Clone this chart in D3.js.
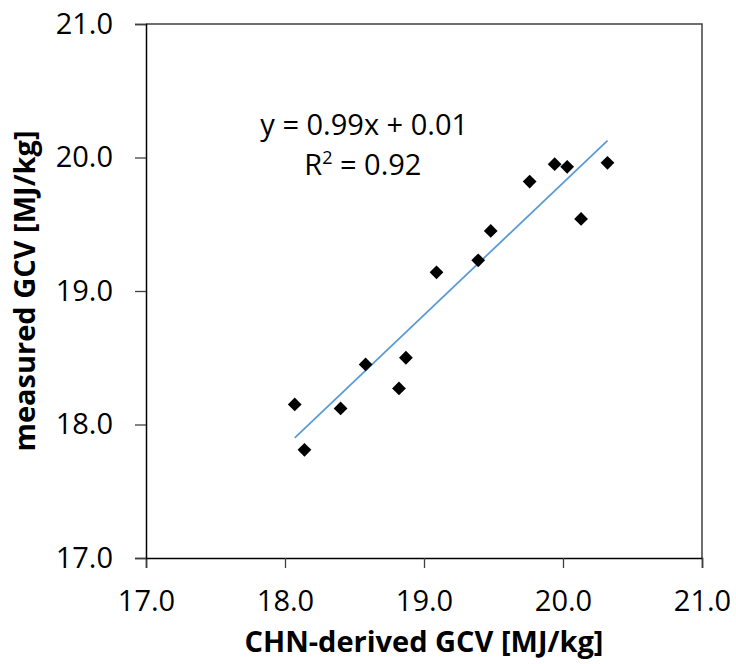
<!DOCTYPE html>
<html>
<head>
<meta charset="utf-8">
<script src="https://cdn.jsdelivr.net/npm/d3@7"></script>
<style>
  body { margin: 0; background: #fff; }
  text { font-family: "Open Sans", sans-serif; fill: #000; }
</style>
</head>
<body>
<svg id="chart" width="736" height="664"></svg>
<script>
// CHN-derived GCV (x) vs measured GCV (y), MJ/kg
var derivedGCV  = [18.07, 18.14, 18.40, 18.58, 18.82, 18.87, 19.09, 19.39, 19.48, 19.76, 19.94, 20.03, 20.13, 20.32]
var measuredGCV = [18.15, 17.81, 18.12, 18.45, 18.27, 18.50, 19.14, 19.23, 19.45, 19.82, 19.95, 19.93, 19.54, 19.96]
var axisTicks = [17, 18, 19, 20, 21]
var trendSlope = 0.99,
    trendIntercept = 0.01
var equationText = "y = 0.99x + 0.01"
var xTitle = "CHN-derived GCV [MJ/kg]",
    yTitle = "measured GCV [MJ/kg]"

var data = derivedGCV.map(function(d, i) { return {x: d, y: measuredGCV[i]} })

var margin = {top: 24, right: 34, bottom: 106, left: 146},
    width = 736 - margin.left - margin.right,
    height = 664 - margin.top - margin.bottom

var svg = d3.select("#chart")
var g = svg.append("g")
    .attr("transform", "translate(" + margin.left + "," + margin.top + ")")

var x = d3.scaleLinear().domain([17, 21]).range([0, width])
var y = d3.scaleLinear().domain([17, 21]).range([height, 0])

// plot frame (top & right)
g.append("path")
    .attr("d", "M0,0H" + width + "V" + height)
    .attr("fill", "none")
    .attr("stroke", "#404040")
    .attr("stroke-width", 1.5)

// x axis
var xAxis = g.append("g")
    .attr("transform", "translate(0," + height + ")")
    .call(d3.axisBottom(x).tickValues(axisTicks).tickSize(10).tickPadding(22).tickFormat(d3.format(".1f")))
xAxis.select(".domain").attr("stroke", "#000").attr("stroke-width", 1.5)
xAxis.selectAll(".tick line").attr("stroke", "#404040").attr("stroke-width", 1.3)
xAxis.selectAll("text").style("font-size", "29px").attr("fill", "#000")

// y axis
var yAxis = g.append("g")
    .call(d3.axisLeft(y).tickValues(axisTicks).tickSize(11).tickPadding(22).tickFormat(d3.format(".1f")))
yAxis.select(".domain").attr("stroke", "#000").attr("stroke-width", 1.5)
yAxis.selectAll(".tick line").attr("stroke", "#404040").attr("stroke-width", 1.3)
yAxis.selectAll("text").style("font-size", "29px").attr("fill", "#000")

// linear trendline
var xExt = d3.extent(derivedGCV)
g.append("line")
    .attr("x1", x(xExt[0]))
    .attr("y1", y(trendSlope * xExt[0] + trendIntercept))
    .attr("x2", x(xExt[1]))
    .attr("y2", y(trendSlope * xExt[1] + trendIntercept))
    .attr("stroke", "#5B9BD5")
    .attr("stroke-width", 1.8)

// diamond markers
var diamond = d3.symbol().type(d3.symbolSquare).size(95)
g.append("g").selectAll("path")
    .data(data)
    .enter().append("path")
    .attr("d", diamond)
    .attr("transform", function(d) { return "translate(" + x(d.x) + "," + y(d.y) + ") rotate(45)" })
    .attr("fill", "#000")

// equation labels
g.append("text")
    .attr("x", x(18.57))
    .attr("y", 111)
    .attr("text-anchor", "middle")
    .style("font-size", "29px")
    .text(equationText)

var r2 = g.append("text")
    .attr("x", x(18.56))
    .attr("y", 151)
    .attr("text-anchor", "middle")
    .style("font-size", "29px")
r2.append("tspan").text("R")
r2.append("tspan").text("2").attr("dy", -11).style("font-size", "18px")
r2.append("tspan").text(" = 0.92").attr("dy", 11)

// axis titles
svg.append("text")
    .attr("x", margin.left + width / 2)
    .attr("y", 652)
    .attr("text-anchor", "middle")
    .style("font-size", "29px")
    .style("font-weight", "bold")
    .text(xTitle)

svg.append("text")
    .attr("transform", "translate(35," + (margin.top + height / 2) + ") rotate(-90)")
    .attr("text-anchor", "middle")
    .style("font-size", "29px")
    .style("font-weight", "bold")
    .text(yTitle)
</script>
</body>
</html>
